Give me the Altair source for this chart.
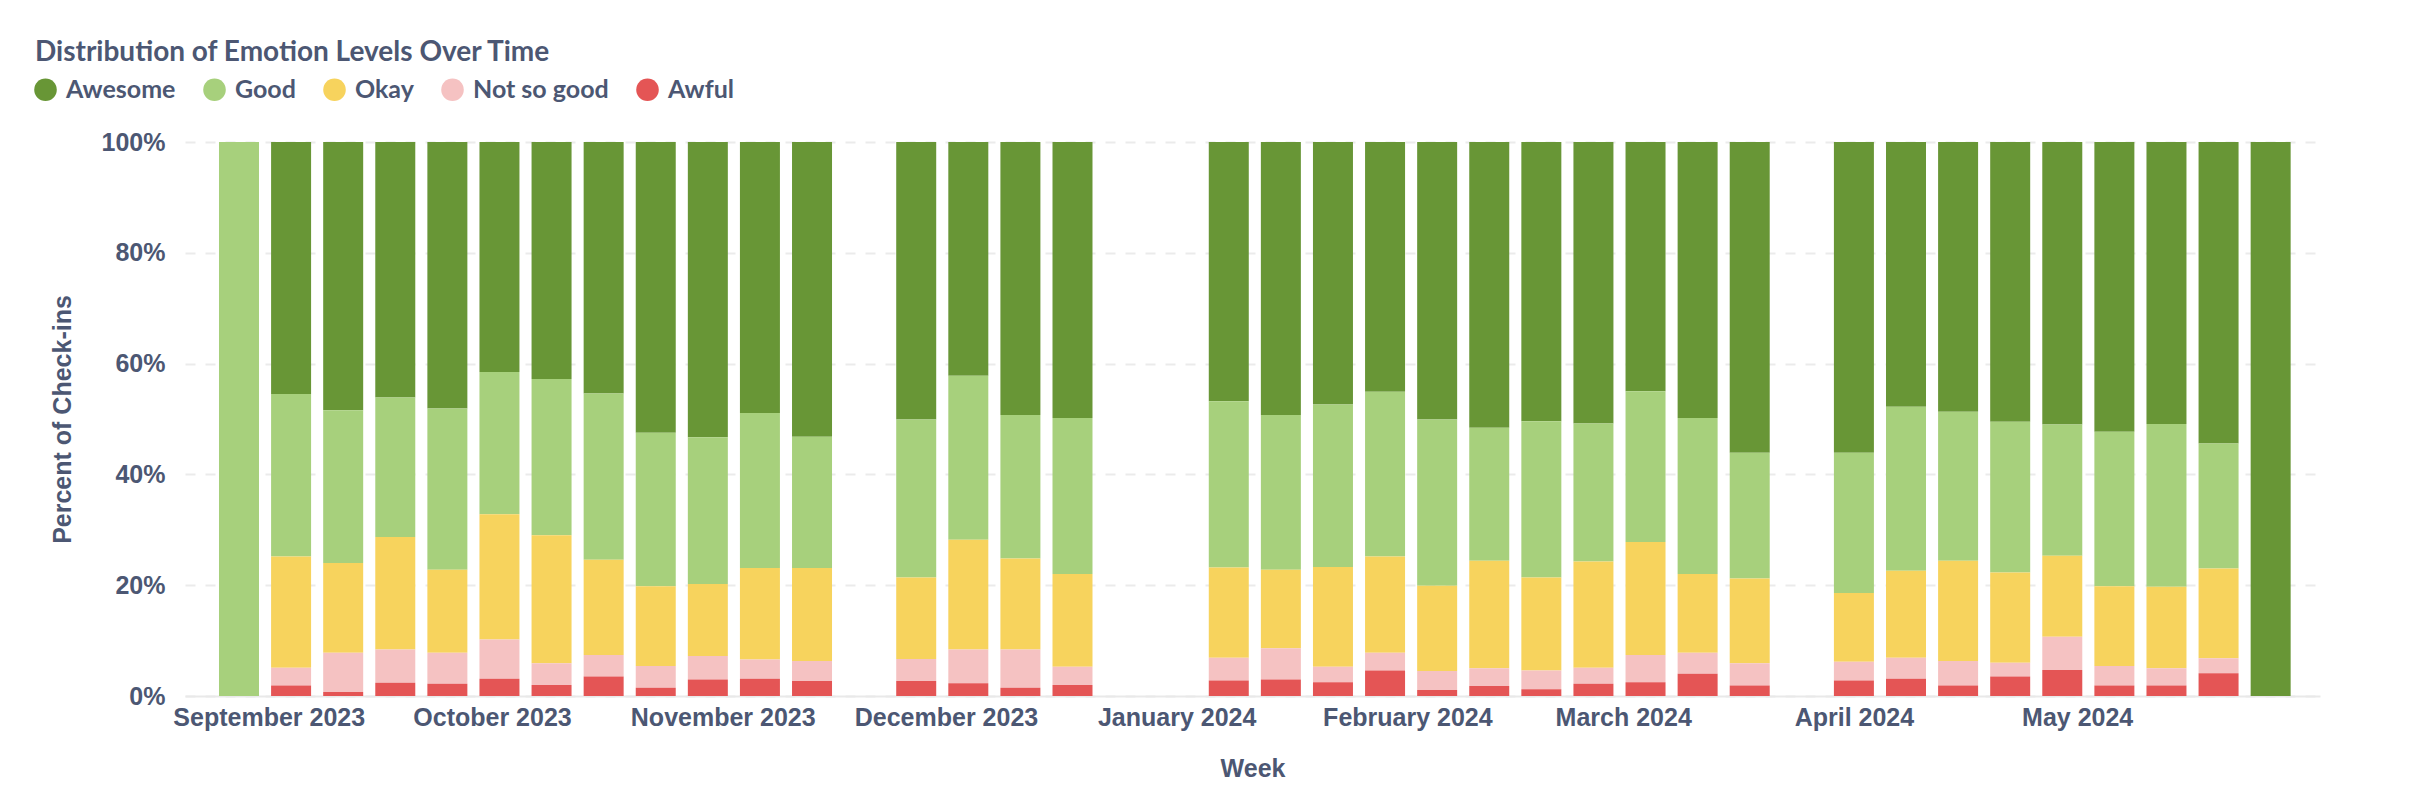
import altair as alt
import pandas as pd

# ---- data ----
categories = ["Awesome", "Good", "Okay", "Not so good", "Awful"]
colors = ["#689636", "#a7d07c", "#f7d35d", "#f5c2c2", "#e45555"]
stack_rank = {"Awful": 0, "Not so good": 1, "Okay": 2, "Good": 3, "Awesome": 4}

week_dates = [
    "2023-08-28", "2023-09-04", "2023-09-11", "2023-09-18", "2023-09-25", "2023-10-02",
    "2023-10-09", "2023-10-16", "2023-10-23", "2023-10-30", "2023-11-06", "2023-11-13",
    "2023-11-27", "2023-12-04", "2023-12-11", "2023-12-18",
    "2024-01-08", "2024-01-15", "2024-01-22", "2024-01-29", "2024-02-05", "2024-02-12",
    "2024-02-19", "2024-02-26", "2024-03-04", "2024-03-11", "2024-03-18",
    "2024-04-01", "2024-04-08", "2024-04-15", "2024-04-22", "2024-04-29", "2024-05-06",
    "2024-05-13", "2024-05-20", "2024-05-27",
]

awful = [0, 1.9, 0.7, 2.4, 2.2, 3.1, 2.0, 3.5, 1.5, 3.0, 3.1, 2.7,
         2.7, 2.3, 1.5, 2.0,
         2.8, 3.0, 2.5, 4.6, 1.1, 1.8, 1.2, 2.2, 2.5, 4.0, 1.9,
         2.8, 3.1, 1.9, 3.5, 4.7, 1.9, 1.9, 4.1, 0]
not_so_good = [0, 3.2, 7.1, 6.0, 5.6, 7.1, 3.9, 3.9, 3.9, 4.2, 3.5, 3.6,
               4.0, 6.1, 6.9, 3.3,
               4.1, 5.6, 2.8, 3.2, 3.4, 3.2, 3.4, 2.9, 4.9, 3.8, 4.0,
               3.4, 3.8, 4.4, 2.5, 6.0, 3.5, 3.1, 2.7, 0]
okay = [0, 20.1, 16.2, 20.3, 15.0, 22.6, 23.1, 17.2, 14.4, 13.0, 16.5, 16.8,
        14.7, 19.8, 16.4, 16.7,
        16.3, 14.2, 18.0, 17.4, 15.4, 19.4, 16.8, 19.2, 20.4, 14.2, 15.3,
        12.4, 15.7, 18.1, 16.3, 14.6, 14.4, 14.7, 16.2, 0]
good = [100, 29.3, 27.6, 25.2, 29.1, 25.7, 28.2, 30.0, 27.7, 26.5, 28.0, 23.7,
        28.5, 29.6, 25.9, 28.2,
        30.0, 27.9, 29.3, 29.7, 30.0, 24.0, 28.2, 24.9, 27.2, 28.2, 22.7,
        25.3, 29.6, 26.9, 27.2, 23.7, 27.9, 29.4, 22.6, 0]
awesome = [0, 45.5, 48.4, 46.1, 48.1, 41.5, 42.8, 45.4, 52.5, 53.3, 48.9, 53.2,
           50.1, 42.2, 49.3, 49.8,
           46.8, 49.3, 47.4, 45.1, 50.1, 51.6, 50.4, 50.8, 45.0, 49.8, 56.1,
           56.1, 47.8, 48.7, 50.5, 51.0, 52.3, 50.9, 54.4, 100]

month_ticks = [(2023, 9), (2023, 10), (2023, 11), (2023, 12), (2024, 1),
               (2024, 2), (2024, 3), (2024, 4), (2024, 5)]
y_ticks = [0, 0.2, 0.4, 0.6, 0.8, 1.0]

series = {"Awesome": awesome, "Good": good, "Okay": okay,
          "Not so good": not_so_good, "Awful": awful}
rows = []
for cat in categories:
    for w, v in zip(week_dates, series[cat]):
        if v > 0:
            rows.append({"week": w, "level": cat, "pct": v, "rank": stack_rank[cat]})
df = pd.DataFrame(rows)

font = "Lato"
axis_font = "Liberation Sans"
text_color = "#4c5773"

chart = alt.Chart(df).mark_bar(size=40).encode(
    x=alt.X(
        "week:T",
        title="Week",
        scale=alt.Scale(
            type="utc",
            domain=[alt.DateTime(year=2023, month=8, date=21, hours=10, utc=True),
                    alt.DateTime(year=2024, month=6, date=1, hours=23, utc=True)],
        ),
        axis=alt.Axis(
            values=[alt.DateTime(year=y, month=m, date=1, utc=True) for y, m in month_ticks],
            format="%B %Y",
            labelFlush=False,
            labelOverlap=False,
            labelLimit=400,
            grid=False,
            ticks=False,
            domainColor="#e9e9e9",
            domainWidth=2,
            labelFont=axis_font,
            labelFontSize=25,
            labelFontWeight="bold",
            labelColor=text_color,
            labelPadding=9,
            titleFont=axis_font,
            titleFontSize=25,
            titleFontWeight="bold",
            titleColor=text_color,
            titlePadding=26,
        ),
    ),
    y=alt.Y(
        "pct:Q",
        stack="normalize",
        title="Percent of Check-ins",
        scale=alt.Scale(domain=[0, 1], nice=False),
        axis=alt.Axis(
            values=y_ticks,
            format=".0%",
            grid=True,
            gridDash=[10, 10],
            gridColor="#ebebeb",
            gridWidth=2,
            domain=False,
            ticks=False,
            labelFont=axis_font,
            labelFontSize=25,
            labelFontWeight="bold",
            labelColor=text_color,
            labelPadding=20,
            titleFont=axis_font,
            titleFontSize=25,
            titleFontWeight="bold",
            titleColor=text_color,
            titlePadding=26,
        ),
    ),
    color=alt.Color(
        "level:N",
        scale=alt.Scale(domain=categories, range=colors),
        legend=alt.Legend(
            title=None,
            orient="none",
            legendX=-152,
            legendY=-65,
            direction="horizontal",
            symbolType="circle",
            symbolSize=510,
            symbolStrokeWidth=0,
            symbolOpacity=1,
            labelFont=font,
            labelFontSize=25,
            labelFontWeight="bold",
            labelColor=text_color,
            labelOffset=8,
            columnPadding=26,
        ),
    ),
    order=alt.Order("rank:Q", sort="ascending"),
).properties(
    width=2135,
    height=554,
    background="white",
    autosize=alt.AutoSizeParams(type="none"),
    padding={"left": 177, "top": 134, "right": 80, "bottom": 100},
    title=alt.TitleParams(
        text="Distribution of Emotion Levels Over Time",
        anchor="start",
        frame="group",
        dx=-150,
        offset=10,
        font=font,
        fontSize=28,
        fontWeight="bold",
        color=text_color,
    ),
).configure_view(stroke=None)

chart.save("out.html", embed_options={"renderer": "svg", "actions": False})
